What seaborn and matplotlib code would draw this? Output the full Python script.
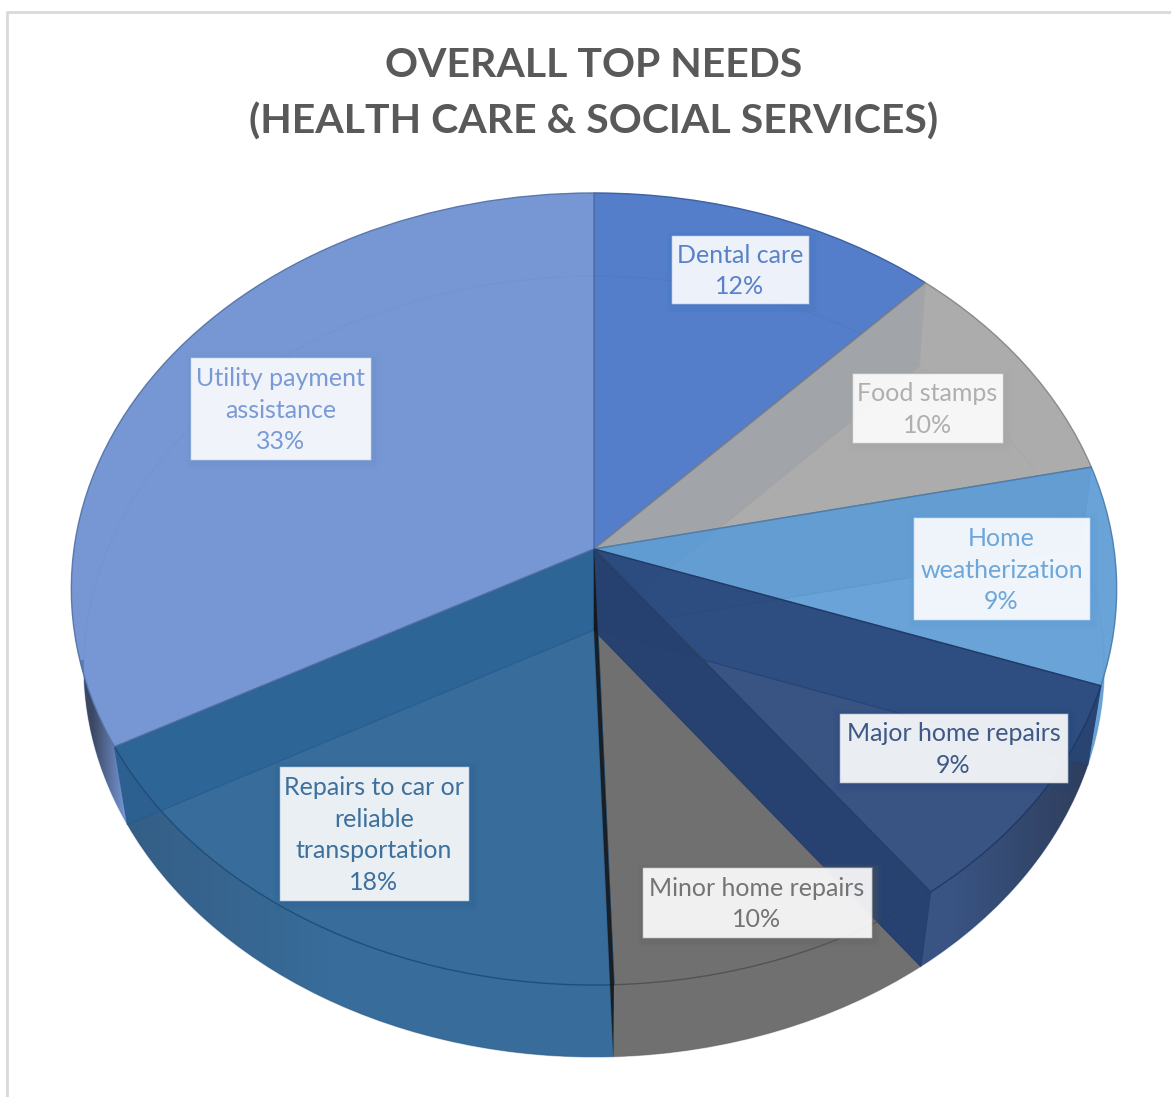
import numpy as np
import seaborn as sns
import matplotlib
matplotlib.use("Agg")
import matplotlib.pyplot as plt
from matplotlib.colors import to_rgb
from matplotlib.patches import Polygon, Rectangle
from matplotlib.transforms import Transform

# data
needs = ["Dental care", "Food stamps", "Home\nweatherization", "Major home repairs",
         "Minor home repairs", "Repairs to car or\nreliable\ntransportation",
         "Utility payment\nassistance"]
shares = [12.0, 9.6, 8.9, 9.4, 9.6, 17.6, 33.0]
shown_pct = [12, 10, 9, 9, 10, 18, 33]
slice_colors = ["#4472C4", "#A5A5A5", "#5B9BD5", "#264478", "#636363", "#255E91", "#698ED0"]
title_text = "OVERALL TOP NEEDS\n(HEALTH CARE & SOCIAL SERVICES)"

# layout, in picture pixels
W, H = 1171, 1097
TOP_DISC = (594, 549, 520, 392, 0.101)
BOTTOM_DISC = (594, 630, 508, 387, 0.0935)
label_boxes = [(671, 235, 809, 304), (852, 373, 1003, 443), (913, 517, 1090, 620),
               (839, 713, 1068, 783), (642, 867, 872, 938), (279, 766, 469, 901),
               (190, 357, 371, 460)]
# slice index: (x where the wall starts to darken, x where it is darkest, strength, first row)
wall_shade = {3: (950, 1095, 0.6, 600), 5: (330, 130, 0.22, 600), 6: (125, 92, 0.75, 660)}
ALPHA = 0.7


class Tilt(Transform):
    # takes the unit pie to a disc seen in perspective
    input_dims = 2
    output_dims = 2
    is_separable = False
    has_inverse = False

    def __init__(self, disc):
        super().__init__()
        self.disc = disc

    def transform_non_affine(self, values):
        cx, cy, a, b, k = self.disc
        x, y = np.asarray(values).T
        d = 1 + k * y
        return np.column_stack([cx + a * x / d, cy - b * y / d])


def rim(theta, disc):
    return Tilt(disc).transform_non_affine(np.column_stack([np.sin(theta), np.cos(theta)]))


sns.set_theme(style="white")
plt.rcParams["font.family"] = ["Lato", "DejaVu Sans"]
palette = sns.color_palette(slice_colors)

fig = plt.figure(figsize=(W / 100, H / 100), dpi=100)
ax = fig.add_axes([0, 0, 1, 1])

edges = np.radians(np.concatenate([[0], np.cumsum(shares)]) / np.sum(shares) * 360)


def draw_pie(disc, face_alpha, edge_alpha, z):
    wedges, _ = ax.pie(shares, colors=palette, startangle=90, counterclock=False,
                       wedgeprops={"linewidth": 1})
    for w, c in zip(wedges, palette):
        w.set_transform(Tilt(disc) + ax.transData)
        w.set_facecolor((*c, face_alpha))
        w.set_edgecolor((c[0] * 0.8, c[1] * 0.8, c[2] * 0.8, edge_alpha))
        w.set_zorder(z)


def side_wall(angle, color, alpha, z, lw=0.8):
    a = rim(np.array([angle]), TOP_DISC)[0]
    b = rim(np.array([angle]), BOTTOM_DISC)[0]
    xs = [TOP_DISC[0], a[0], b[0], BOTTOM_DISC[0]]
    ys = [TOP_DISC[1], a[1], b[1], BOTTOM_DISC[1]]
    ax.fill(xs, ys, facecolor=(*color, alpha), edgecolor=(*color, min(alpha + 0.2, 1)),
            linewidth=lw, zorder=z)


draw_pie(BOTTOM_DISC, ALPHA, 0.35, 2)

# outer curved wall, darkened towards the sides with a clipped gradient
for i, c in enumerate(palette):
    t = np.linspace(edges[i], edges[i + 1], 200)
    outline = np.vstack([rim(t, TOP_DISC), rim(t, BOTTOM_DISC)[::-1]])
    wall = Polygon(outline, facecolor=(*c, ALPHA), edgecolor="none", zorder=2.5)
    ax.add_patch(wall)
    if i in wall_shade:
        x0, x1, strength, first_row = wall_shade[i]
        ramp = np.clip((np.arange(W) - x0) / (x1 - x0), 0, 1) * strength
        overlay = np.zeros((1, W, 4))
        overlay[..., :3] = (0.16, 0.18, 0.24)
        overlay[..., 3] = ramp
        img = ax.imshow(overlay, extent=(0, W, H, first_row), aspect="auto", zorder=2.6,
                        interpolation="bilinear")
        img.set_clip_path(wall)

# walls seen through the top face
side_wall(edges[1], palette[1], ALPHA, 3)
side_wall(edges[2], palette[2], ALPHA, 3)
side_wall(edges[3], palette[3], ALPHA, 3)
side_wall(edges[6], palette[5], ALPHA, 3)

draw_pie(TOP_DISC, ALPHA, 0.9, 5)

# the two walls that read in front of the top face
side_wall(edges[4], tuple(v * 0.93 for v in palette[3]), 0.93, 6)
side_wall(edges[5], (0.07, 0.07, 0.07), 0.85, 6, lw=0)

ax.set_aspect("auto")
ax.set_xlim(0, W)
ax.set_ylim(H, 0)
ax.set_axis_off()

# chart frame
ax.plot([7, 7, W], [H, 12, 12], color="#d9d9d9", linewidth=2, zorder=1, clip_on=False)

ax.text(594, 94, title_text, ha="center", va="center", fontsize=29.5, fontweight="bold",
        color="#595959", linespacing=1.62, zorder=10)

for name, pct, box, c in zip(needs, shown_pct, label_boxes, slice_colors):
    x0, y0, x1, y1 = box
    rgb = to_rgb(c)
    for grow, a in [(7, 0.07), (5, 0.09), (3, 0.11)]:
        ax.add_patch(Rectangle((x0 - grow + 2, y0 - grow + 3), x1 - x0 + 2 * grow, y1 - y0 + 2 * grow,
                               facecolor=(*rgb, a), linewidth=0, zorder=7))
    ax.add_patch(Rectangle((x0, y0), x1 - x0, y1 - y0, facecolor=(1, 1, 1, 0.9),
                           edgecolor=(*rgb, 0.55), linewidth=1, zorder=8))
    ax.text((x0 + x1) / 2, (y0 + y1) / 2 + 1.5, f"{name}\n{pct}%", ha="center", va="center",
            fontsize=18, color=(*rgb, 0.88), linespacing=1.47, zorder=9)

fig.savefig("out.png", dpi=100, facecolor="white")
